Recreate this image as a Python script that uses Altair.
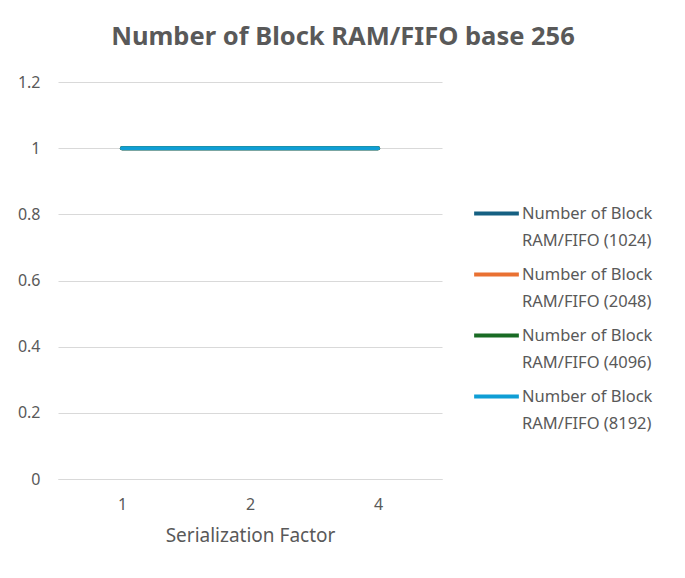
import altair as alt
import pandas as pd

chart_title = "Number of Block RAM/FIFO base 256"
factors = ["1", "2", "4"]
series_names = [
    "Number of Block RAM/FIFO (1024)",
    "Number of Block RAM/FIFO (2048)",
    "Number of Block RAM/FIFO  (4096)",
    "Number of Block RAM/FIFO  (8192)",
]
values_1024 = [1, 1, 1]
values_2048 = [1, 1, 1]
values_4096 = [1, 1, 1]
values_8192 = [1, 1, 1]
colors = ["#156082", "#E97132", "#196B24", "#0F9ED5"]

rows = []
for name, vals in zip(series_names, [values_1024, values_2048, values_4096, values_8192]):
    for f, v in zip(factors, vals):
        rows.append({"series": name, "factor": f, "value": v, "ord": series_names.index(name)})
df = pd.DataFrame(rows)

FONT = "Noto Sans"
TXT = "#595959"

lines = alt.Chart(df).mark_line(strokeWidth=4, strokeCap="round").encode(
    x=alt.X("factor:O", sort=factors,
            scale=alt.Scale(type="point", padding=0.5),
            axis=alt.Axis(title="Serialization Factor", labelAngle=0, ticks=False,
                          grid=False, domain=True, domainColor="#d9d9d9", labelPadding=17,
                          titlePadding=14, labelFontSize=16, titleFontSize=19,
                          titleFontWeight="normal", labelColor=TXT, titleColor=TXT,
                          labelFont=FONT, titleFont=FONT)),
    y=alt.Y("value:Q", scale=alt.Scale(domain=[0, 1.2]),
            axis=alt.Axis(title=None, values=[0, 0.2, 0.4, 0.6, 0.8, 1.0, 1.2],
                          format="~g", ticks=False, domain=False, gridColor="#d9d9d9",
                          labelPadding=18, labelFontSize=16, labelColor=TXT,
                          labelFont=FONT)),
    color=alt.Color("series:N", sort=series_names,
                    scale=alt.Scale(domain=series_names, range=colors),
                    legend=alt.Legend(title=None, orient="none", legendX=414, legendY=107,
                                      symbolType="stroke", symbolSize=2000,
                                      symbolStrokeWidth=4, labelFontSize=16.5,
                                      labelColor=TXT, labelFont=FONT,
                                      labelExpr="[slice(datum.label,0,15), trim(slice(datum.label,16))]",
                                      rowPadding=1, labelLimit=300, symbolOffset=0,
                                      labelOffset=1)),
    order=alt.Order("ord:Q"),
)

title_df = pd.DataFrame({"t": [chart_title]})
title = alt.Chart(title_df).mark_text(
    font=FONT, fontSize=25.5, fontWeight="bold", color=TXT, baseline="middle", align="center"
).encode(text="t:N", x=alt.value(285), y=alt.value(-45))

chart = alt.layer(title, lines).properties(
    width=384, height=397,
    autosize=alt.AutoSizeParams(type="none"),
    padding={"left": 50, "top": 74, "right": 235, "bottom": 91},
).configure(
    background="white",
    style={"guide-label": {"lineHeight": 27}},
).configure_view(stroke="transparent", strokeWidth=0)

chart.save("out.html", embed_options={"renderer": "svg", "actions": False})
